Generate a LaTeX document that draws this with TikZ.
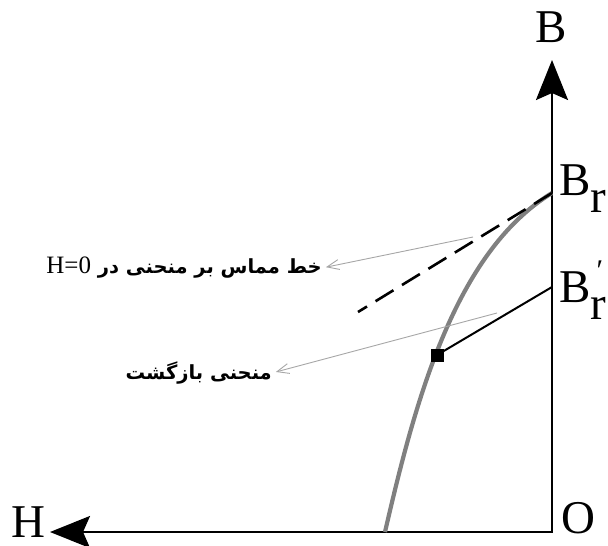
\documentclass[tikz,border=0pt]{standalone}
\usepackage{fontspec}
\setmainfont{Liberation Serif}
\newfontfamily\arabicfont[Script=Arabic]{DejaVu Sans}
\TeXXeTstate=1
\usetikzlibrary{arrows.meta}
\begin{document}
\begin{tikzpicture}[x=1pt,y=-1pt,
  axis/.style={line width=2.3pt, line join=miter,
    {Stealth[length=40pt,width=32pt,inset=7pt]}-{Stealth[length=40pt,width=32pt,inset=7pt]}},
  biglbl/.style={font=\fontsize{47}{47}\selectfont, inner sep=0pt},
  hyst/.style={draw=black!50, line width=4.2pt},
  tangent/.style={line width=2.6pt, dash pattern=on 21pt off 10pt},
  recoil/.style={line width=2pt},
  marker/.style={draw, fill=black, minimum size=12pt, inner sep=0pt},
  pointer/.style={draw=black!35, line width=0.9pt, shorten >=4pt,
    -{Straight Barb[length=12pt,width=10pt]}},
  note/.style={font=\arabicfont\bfseries\fontsize{19.5}{19.5}\selectfont, inner sep=0pt}
]
\useasboundingbox (0,0) rectangle (608,546);
% axes
\coordinate (O) at (552,532);
\coordinate (Btip) at (552,60);
\coordinate (Htip) at (50,532);
\draw[axis] (Htip) -- (O) -- (Btip);
% labels
\node[biglbl, anchor=base] (Blbl) at (551,42) {B};
\node[biglbl, anchor=base east] (Hlbl) at (46,537) {H};
\node[biglbl, anchor=base west] (Olbl) at (561,533) {O};
\node[biglbl, anchor=base west] (Br) at (559,195) {B\raisebox{-17pt}{r}};
\node[biglbl, anchor=base west] (Brp) at (559,302) {B\raisebox{-17pt}{r}\llap{\raisebox{22pt}{\fontsize{30}{30}\selectfont ′}\kern3pt}};
% points
\coordinate (Br0) at (552,193);
\coordinate (Brp0) at (552,287);
\coordinate (Hc) at (385,532);
\coordinate (tend) at (358,312);
% curve
\draw[hyst] (Hc) .. controls (415,402) and (454.5,252.5) .. (Br0);
\draw[tangent] (Br0) -- (tend);
\node[marker] (sq) at (437,355) {};
\draw[recoil] (sq.center) -- (Brp0);
% notes
\node[note, anchor=east] (note1) at (322,268) {\beginR خط مماس بر منحنی در \beginL{\rmfamily\mdseries\fontsize{25}{25}\selectfont H=0}\endL\endR};
\node[note, anchor=east] (note2) at (272,373) {\beginR منحنی بازگشت\endR};
\coordinate (p1) at (473,237);
\coordinate (p2) at (497,313);
\draw[pointer] (p1) -- (note1.east);
\draw[pointer] (p2) -- (note2.east);
\end{tikzpicture}
\end{document}
